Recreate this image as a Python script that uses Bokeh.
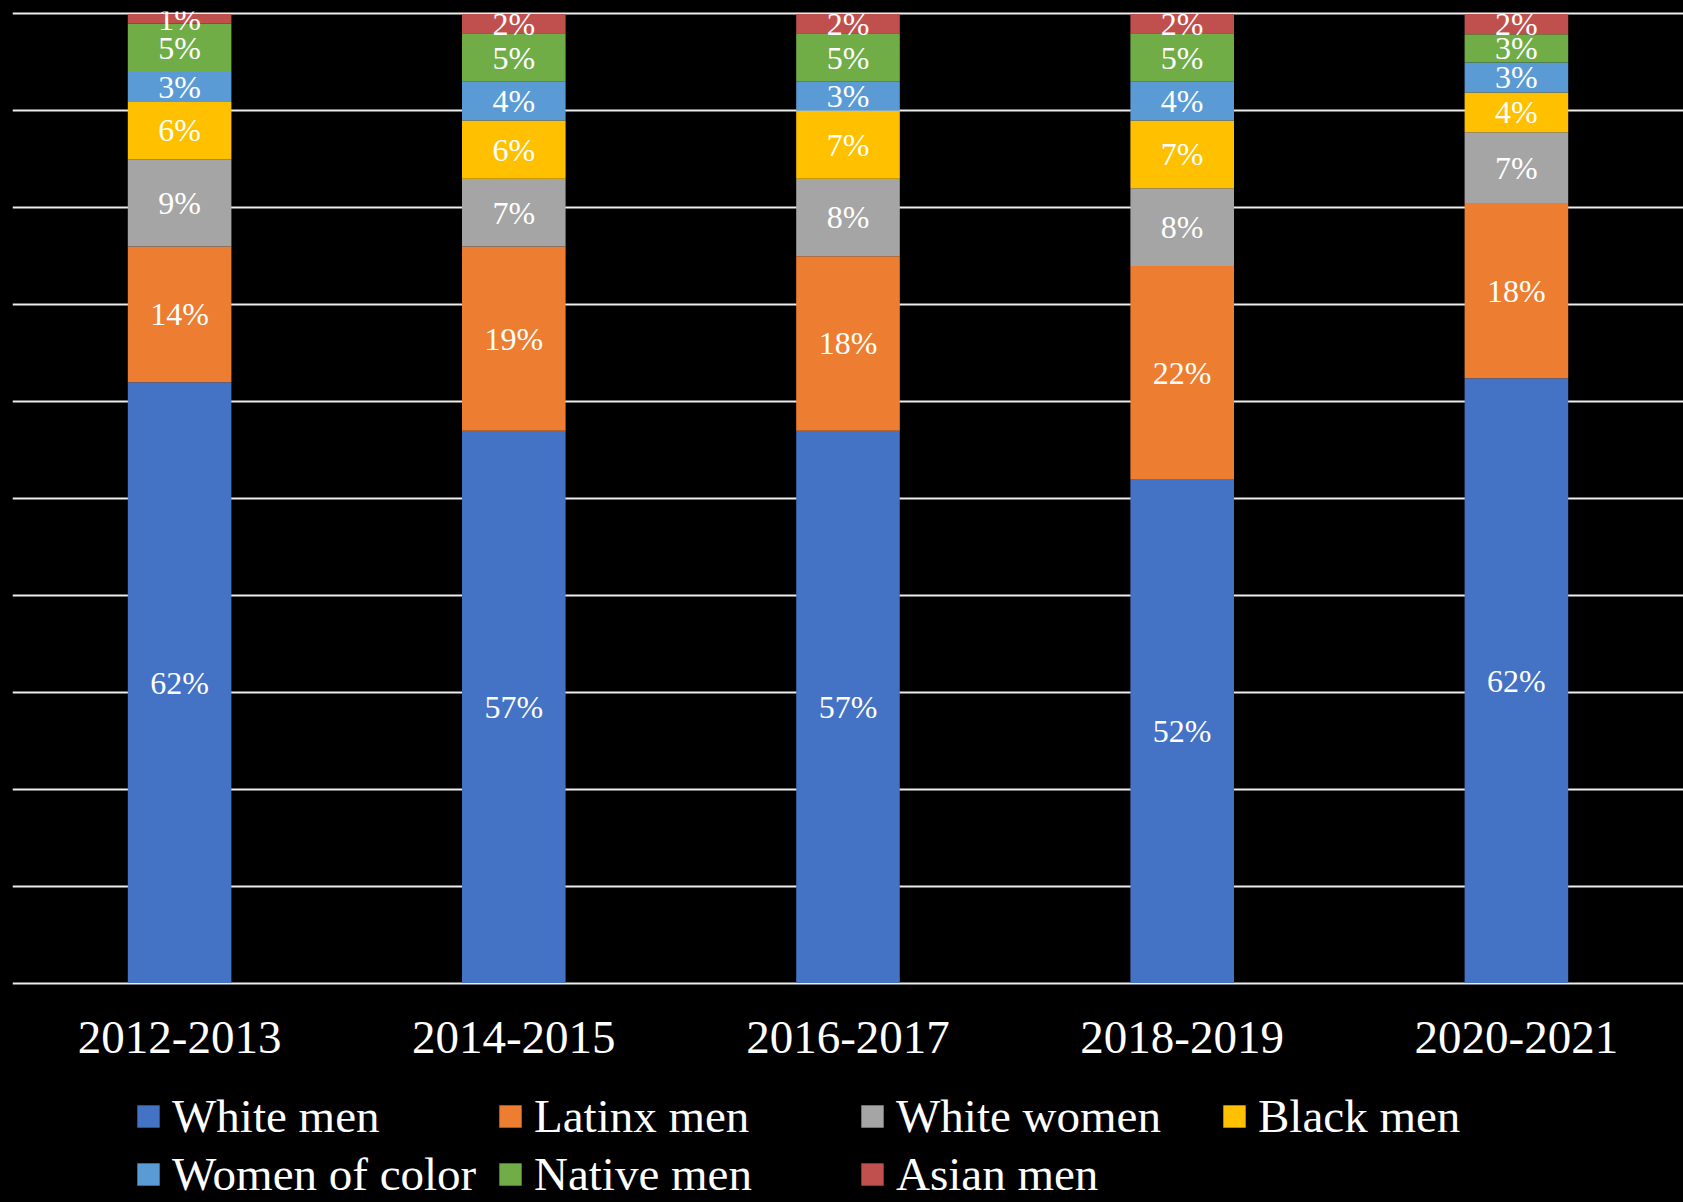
from bokeh.plotting import figure
from bokeh.layouts import column
from bokeh.models import ColumnDataSource, FactorRange, Range1d, Legend, LegendItem, FixedTicker
from bokeh.core.properties import value
from bokeh.embed import file_html
from bokeh.resources import INLINE

periods = ["2012-2013", "2014-2015", "2016-2017", "2018-2019", "2020-2021"]
series = ["White men", "Latinx men", "White women", "Black men",
          "Women of color", "Native men", "Asian men"]
white_men = [62, 57, 57, 52, 62.4]
latinx_men = [14, 19, 18, 22, 18.1]
white_women = [9, 7, 8, 8, 7.3]
black_men = [6, 6, 7, 7, 4.1]
women_of_color = [3, 4, 3, 4, 3.1]
native_men = [5, 5, 5, 5, 2.9]
asian_men = [1, 2, 2, 2, 2.1]
colors = ["#4472C4", "#ED7D31", "#A5A5A5", "#FFC000", "#5B9BD5", "#70AD47", "#C0504D"]

values = [white_men, latinx_men, white_women, black_men, women_of_color, native_men, asian_men]
data = {"period": periods}
for s, v in zip(series, values):
    data[s] = v
src = ColumnDataSource(data)

FONT = "Liberation Serif"
BLACK = {"background-color": "black"}


def style(fig):
    fig.background_fill_color = None
    fig.border_fill_color = "black"
    fig.outline_line_color = None


p = figure(x_range=FactorRange(*periods), y_range=Range1d(-0.25, 100.25),
           width=1683, height=1085, output_backend="svg", toolbar_location=None,
           min_border_left=12, min_border_right=0, min_border_top=11, min_border_bottom=100,
           styles=BLACK)
style(p)

# gridlines sit behind the bars
p.ygrid.ticker = FixedTicker(ticks=list(range(0, 101, 10)))
p.ygrid.grid_line_color = "#EDEDED"
p.ygrid.grid_line_width = 2
p.xgrid.visible = False

p.vbar_stack(series, x="period", width=0.31, color=colors, line_color=None, source=src)

# labels centred in each segment
lx, ly, lt = [], [], []
for i, per in enumerate(periods):
    base = 0
    for v in values:
        val = v[i]
        lx.append(per)
        ly.append(base + val / 2)
        lt.append(f"{round(val)}%")
        base += val
p.text(x=lx, y=ly, text=lt, text_font=value(FONT), text_font_size="32px",
       text_color="white", text_align="center", text_baseline="middle")

p.yaxis.axis_line_color = None
p.yaxis.visible = False

xa = p.xaxis[0]
xa.axis_line_color = None
xa.major_tick_line_color = None
xa.minor_tick_line_color = None
xa.major_tick_out = 0
xa.major_tick_in = 0
xa.major_label_standoff = 36
xa.major_label_text_font = FONT
xa.major_label_text_font_size = "47px"
xa.major_label_text_color = "white"

# legend figure (bars of this figure lie outside its visible y range)
lg = figure(x_range=FactorRange(*periods), y_range=Range1d(1000, 1001),
            width=1683, height=117, output_backend="svg", toolbar_location=None,
            min_border_left=0, min_border_right=0, min_border_top=0, min_border_bottom=0,
            styles=BLACK)
style(lg)
lg.axis.visible = False
lg.grid.visible = False
lrends = lg.vbar_stack(series, x="period", width=0.31, color=colors, line_color=None, source=src)

legend = Legend(items=[LegendItem(label=s, renderers=[r]) for s, r in zip(series, lrends)],
                location=(122, -1), orientation="horizontal", ncols=4,
                glyph_width=28, glyph_height=28, label_standoff=10,
                label_width=324, label_height=58, spacing=0, padding=0, margin=0,
                label_text_font=FONT, label_text_font_size="47px", label_text_color="white",
                background_fill_alpha=0, border_line_color=None)
lg.add_layout(legend, "center")

open("out.html", "w").write(file_html(column(p, lg, spacing=0, styles=BLACK), INLINE))
